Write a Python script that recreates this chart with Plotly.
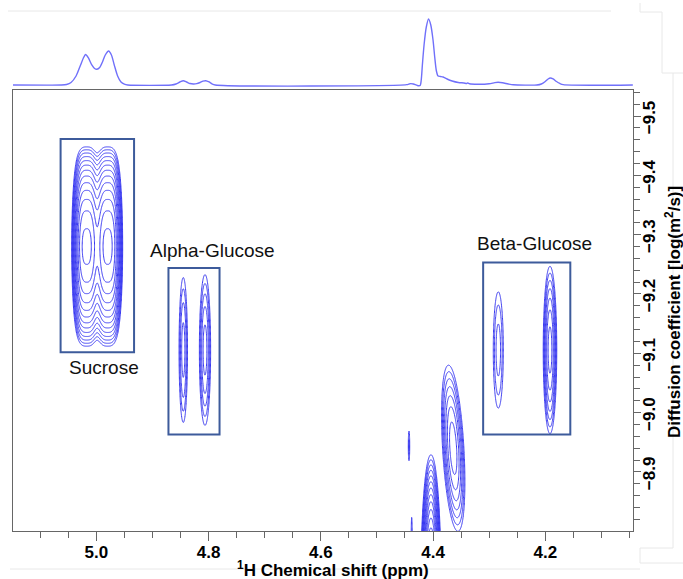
import numpy as np
import plotly.graph_objects as go

# ---------------- 1D projection (ppm, intensity) ----------------
spec_ppm = [5.149, 5.062, 5.053, 5.045, 5.036, 5.028, 5.023, 5.019, 5.014, 5.008, 5.003, 4.999,
            4.994, 4.989, 4.984, 4.978, 4.973, 4.968, 4.962, 4.956, 4.950, 4.944,
            4.866, 4.858, 4.851, 4.845, 4.839, 4.833, 4.827, 4.821, 4.815, 4.810, 4.805, 4.799,
            4.794, 4.788,
            4.447, 4.441, 4.435, 4.428, 4.423, 4.421, 4.419, 4.416, 4.412, 4.408, 4.404, 4.400,
            4.397, 4.394, 4.391, 4.387, 4.382, 4.375, 4.366, 4.355, 4.345, 4.340, 4.338, 4.335,
            4.320, 4.300, 4.290, 4.284, 4.276, 4.266, 4.257,
            4.215, 4.207, 4.200, 4.195, 4.191, 4.186, 4.180, 4.174, 4.168, 4.044]
spec_int = [0, 0, 0.5, 2.5, 9, 20, 27, 30.5, 27, 20, 16.5, 15.7,
            17.5, 23, 30, 34, 30, 20, 9, 3, 0.8, 0,
            0, 1, 3, 4.3, 3, 1.5, 1, 1.3, 2.5, 3.8, 4.3, 3,
            1.2, 0,
            0.3, 1.3, 1, -0.5, -0.5, 5, 20, 40, 58, 66, 60, 45,
            28, 14, 9, 8.5, 8, 6, 4, 2.5, 2, 1.5, 2, 1.2,
            0.7, 1.2, 2.3, 2.7, 2.2, 1, 0.2,
            0, 1, 3.5, 6, 7, 6, 3.5, 1.5, 0.3, 0]

# ---------------- 2D DOSY cross peaks (Gaussian, optional shear ppm per logD) ----------------
peak_group = ["alpha", "alpha", "beta", "beta", "h2o", "h2o", "h2o", "h2o"]
peak_ppm = [4.8450, 4.8063, 4.2837, 4.1916, 4.4037, 4.3640, 4.4428, 4.4380]
peak_logd = [-9.1056, -9.1056, -9.1056, -9.1056, -8.70, -8.94, -8.944, -8.77]
peak_sx = [0.0052, 0.0061, 0.0073, 0.0061, 0.0063, 0.0095, 0.0015, 0.0012]
peak_sy = [0.0842, 0.0773, 0.080, 0.0714, 0.079, 0.070, 0.030, 0.060]
peak_lnamp = [1.05, 1.35, 0.75, 1.95, 4.2, 2.0, 0.35, 0.4]
peak_shear = [0, 0, 0, 0, 0, -0.06, 0, 0]

# sucrose: two broad-in-D lines with steep flanks
suc_ppm = [5.0171, 4.9797]
suc_logd = -9.28
suc_wx, suc_px = 0.01726, 3.0
suc_wy1, suc_wy2 = 0.095, 0.180
suc_lnamp = 3.7

# labels / boxes
labels = ["Sucrose", "Alpha-Glucose", "Beta-Glucose"]
label_ppm = [4.987, 4.7934, 4.2193]
label_logd = [-9.0764, -9.2738, -9.2857]
box_ppm = [(5.0636, 4.9327), (4.8714, 4.7804), (4.3107, 4.1554)]
box_logd = [(-9.4612, -9.1017), (-9.244, -8.9633), (-9.253, -8.9633)]

X_TITLE = "<sup>1</sup>H Chemical shift (ppm)"
Y_TITLE = "Diffusion coefficient [log(m<sup>2</sup>/s)]"

X_RANGE = [5.1484, 4.0437]
Y_RANGE = [-8.8005, -9.5439]
LEVEL_SIZE = 0.3  # ln(1.35): geometric contour spacing

CONT = "#3737f0"
SPEC = "rgb(112,112,250)"
FONT = "Arial, 'Liberation Sans', sans-serif"

fig = go.Figure()


def clip_lnz(lz):
    return np.round(np.maximum(lz, -1.0), 3)


# sucrose contour (log intensity)
xs = np.arange(4.93, 5.07, 0.0004)
ys = np.arange(-9.48, -9.07, 0.002)
X, Y = np.meshgrid(xs, ys)
Gx = sum(np.exp(-np.abs((X - p) / suc_wx) ** suc_px) for p in suc_ppm)
dy = np.abs(Y - suc_logd)
lnFy = -(dy / suc_wy1) ** 2 - (dy / suc_wy2) ** 8
LZ = suc_lnamp + np.log(np.maximum(Gx, 1e-30)) + lnFy
traces = [(xs, ys, clip_lnz(LZ))]

# gaussian groups
for grp in ["alpha", "beta", "h2o"]:
    idx = [i for i, g in enumerate(peak_group) if g == grp]
    x0 = min(peak_ppm[i] - 5 * peak_sx[i] - abs(peak_shear[i]) * 0.3 for i in idx)
    x1 = max(peak_ppm[i] + 5 * peak_sx[i] + abs(peak_shear[i]) * 0.3 for i in idx)
    y0 = max(min(peak_logd[i] - 4 * peak_sy[i] for i in idx), -9.56)
    y1 = min(max(peak_logd[i] + 4 * peak_sy[i] for i in idx), -8.79)
    xs = np.arange(x0, x1, 0.0004)
    ys = np.arange(y0, y1, 0.002)
    X, Y = np.meshgrid(xs, ys)
    Z = np.zeros_like(X)
    for i in idx:
        xc = peak_ppm[i] + peak_shear[i] * (Y - peak_logd[i])
        Z += np.exp(peak_lnamp[i] - ((X - xc) ** 2) / (2 * peak_sx[i] ** 2)
                    - ((Y - peak_logd[i]) ** 2) / (2 * peak_sy[i] ** 2))
    traces.append((xs, ys, clip_lnz(np.log(np.maximum(Z, 1e-30)))))

for xs, ys, lz in traces:
    fig.add_trace(go.Contour(
        x=np.round(xs, 5), y=np.round(ys, 5), z=lz, xaxis="x", yaxis="y",
        autocontour=False,
        contours=dict(start=0, end=4.2, size=LEVEL_SIZE, coloring="lines"),
        colorscale=[[0, CONT], [1, CONT]], line=dict(width=1),
        showscale=False, hoverinfo="skip"))

# 1D spectrum on top
fig.add_trace(go.Scatter(x=spec_ppm, y=spec_int, mode="lines", xaxis="x2", yaxis="y2",
                         line=dict(color=SPEC, width=1.4, shape="spline", smoothing=0.7),
                         hoverinfo="skip", showlegend=False))

shapes = []
for (xa, xb), (ya, yb) in zip(box_ppm, box_logd):
    shapes.append(dict(type="rect", xref="x", yref="y", x0=xa, x1=xb, y0=ya, y1=yb,
                       line=dict(color="#3d5b9b", width=2)))


# pixel -> paper helpers (plot area spans x 13..633, y 10..531)
def px(xp):
    return (xp - 13) / 620.0


def py(yp):
    return (531 - yp) / 521.0


faint = [((8, 11), (611, 11)), ((673, 73), (673, 548)), ((673, 548), (640, 548)),
         ((640, 548), (640, 563)), ((640, 563), (683, 563)), ((10, 569), (640, 569)),
         ((640, 3), (640, 12)), ((640, 12), (662, 12)), ((662, 12), (662, 73)), ((662, 73), (683, 73))]
for (a, b) in faint:
    shapes.append(dict(type="line", xref="paper", yref="paper", x0=px(a[0]), y0=py(a[1]),
                       x1=px(b[0]), y1=py(b[1]), line=dict(color="#e8e8e8", width=1), layer="below"))

annotations = []
for t, xv, yv in zip(labels, label_ppm, label_logd):
    annotations.append(dict(text=t, x=xv, y=yv, xref="x", yref="y", showarrow=False,
                            xanchor="center", yanchor="middle",
                            font=dict(family=FONT, size=19, color="#111111")))
title_font = dict(family=FONT, size=17, color="black", weight="bold")
annotations.append(dict(text=X_TITLE, x=px(332.5), y=py(569), xref="paper", yref="paper",
                        showarrow=False, xanchor="center", yanchor="middle", font=title_font))
annotations.append(dict(text=Y_TITLE, x=px(673), y=py(312), xref="paper", yref="paper",
                        showarrow=False, xanchor="center", yanchor="middle", textangle=-90,
                        font=title_font))

axis_col = "#666666"
fig.update_layout(
    width=683, height=579,
    margin=dict(l=13, r=50, t=10, b=48),
    paper_bgcolor="white", plot_bgcolor="white",
    showlegend=False,
    shapes=shapes, annotations=annotations,
    xaxis=dict(domain=[0, 1], anchor="y", range=X_RANGE, automargin=False,
               showgrid=False, zeroline=False, showline=True, linecolor=axis_col, linewidth=1,
               mirror=True, ticks="outside", ticklen=9, tickcolor=axis_col, tickwidth=1,
               tick0=4.2, dtick=0.2, tickformat=".1f", ticklabelstandoff=-3,
               minor=dict(ticks="outside", ticklen=6, tickcolor=axis_col, dtick=0.05, tick0=4.2),
               tickfont=dict(family=FONT, size=17, color="black", weight="bold")),
    yaxis=dict(domain=[0, 0.8465], anchor="x", range=Y_RANGE, side="right", automargin=False,
               showgrid=False, zeroline=False, showline=True, linecolor=axis_col, linewidth=1,
               mirror=True, ticks="outside", ticklen=7, tickcolor=axis_col, tickwidth=1,
               tick0=-9.5, dtick=0.1, tickformat=".1f", tickangle=-90,
               ticklabelstandoff=-6, ticklabelshift=-4,
               minor=dict(ticks="outside", ticklen=6, tickcolor=axis_col, dtick=0.02, tick0=-9.5),
               tickfont=dict(family=FONT, size=17, color="black", weight="bold")),
    xaxis2=dict(domain=[0, 1], anchor="y2", matches="x", visible=False),
    yaxis2=dict(domain=[0.8484, 1], anchor="x2", range=[-4, 75], visible=False),
)

fig.write_html("out.html", config={"displayModeBar": False})

# remove the browser's default body margin so the figure sits at the window origin
with open("out.html", encoding="utf-8") as f:
    html = f.read()
html = html.replace("<head>", "<head><style>html,body{margin:0;padding:0;}</style>", 1)
with open("out.html", "w", encoding="utf-8") as f:
    f.write(html)
